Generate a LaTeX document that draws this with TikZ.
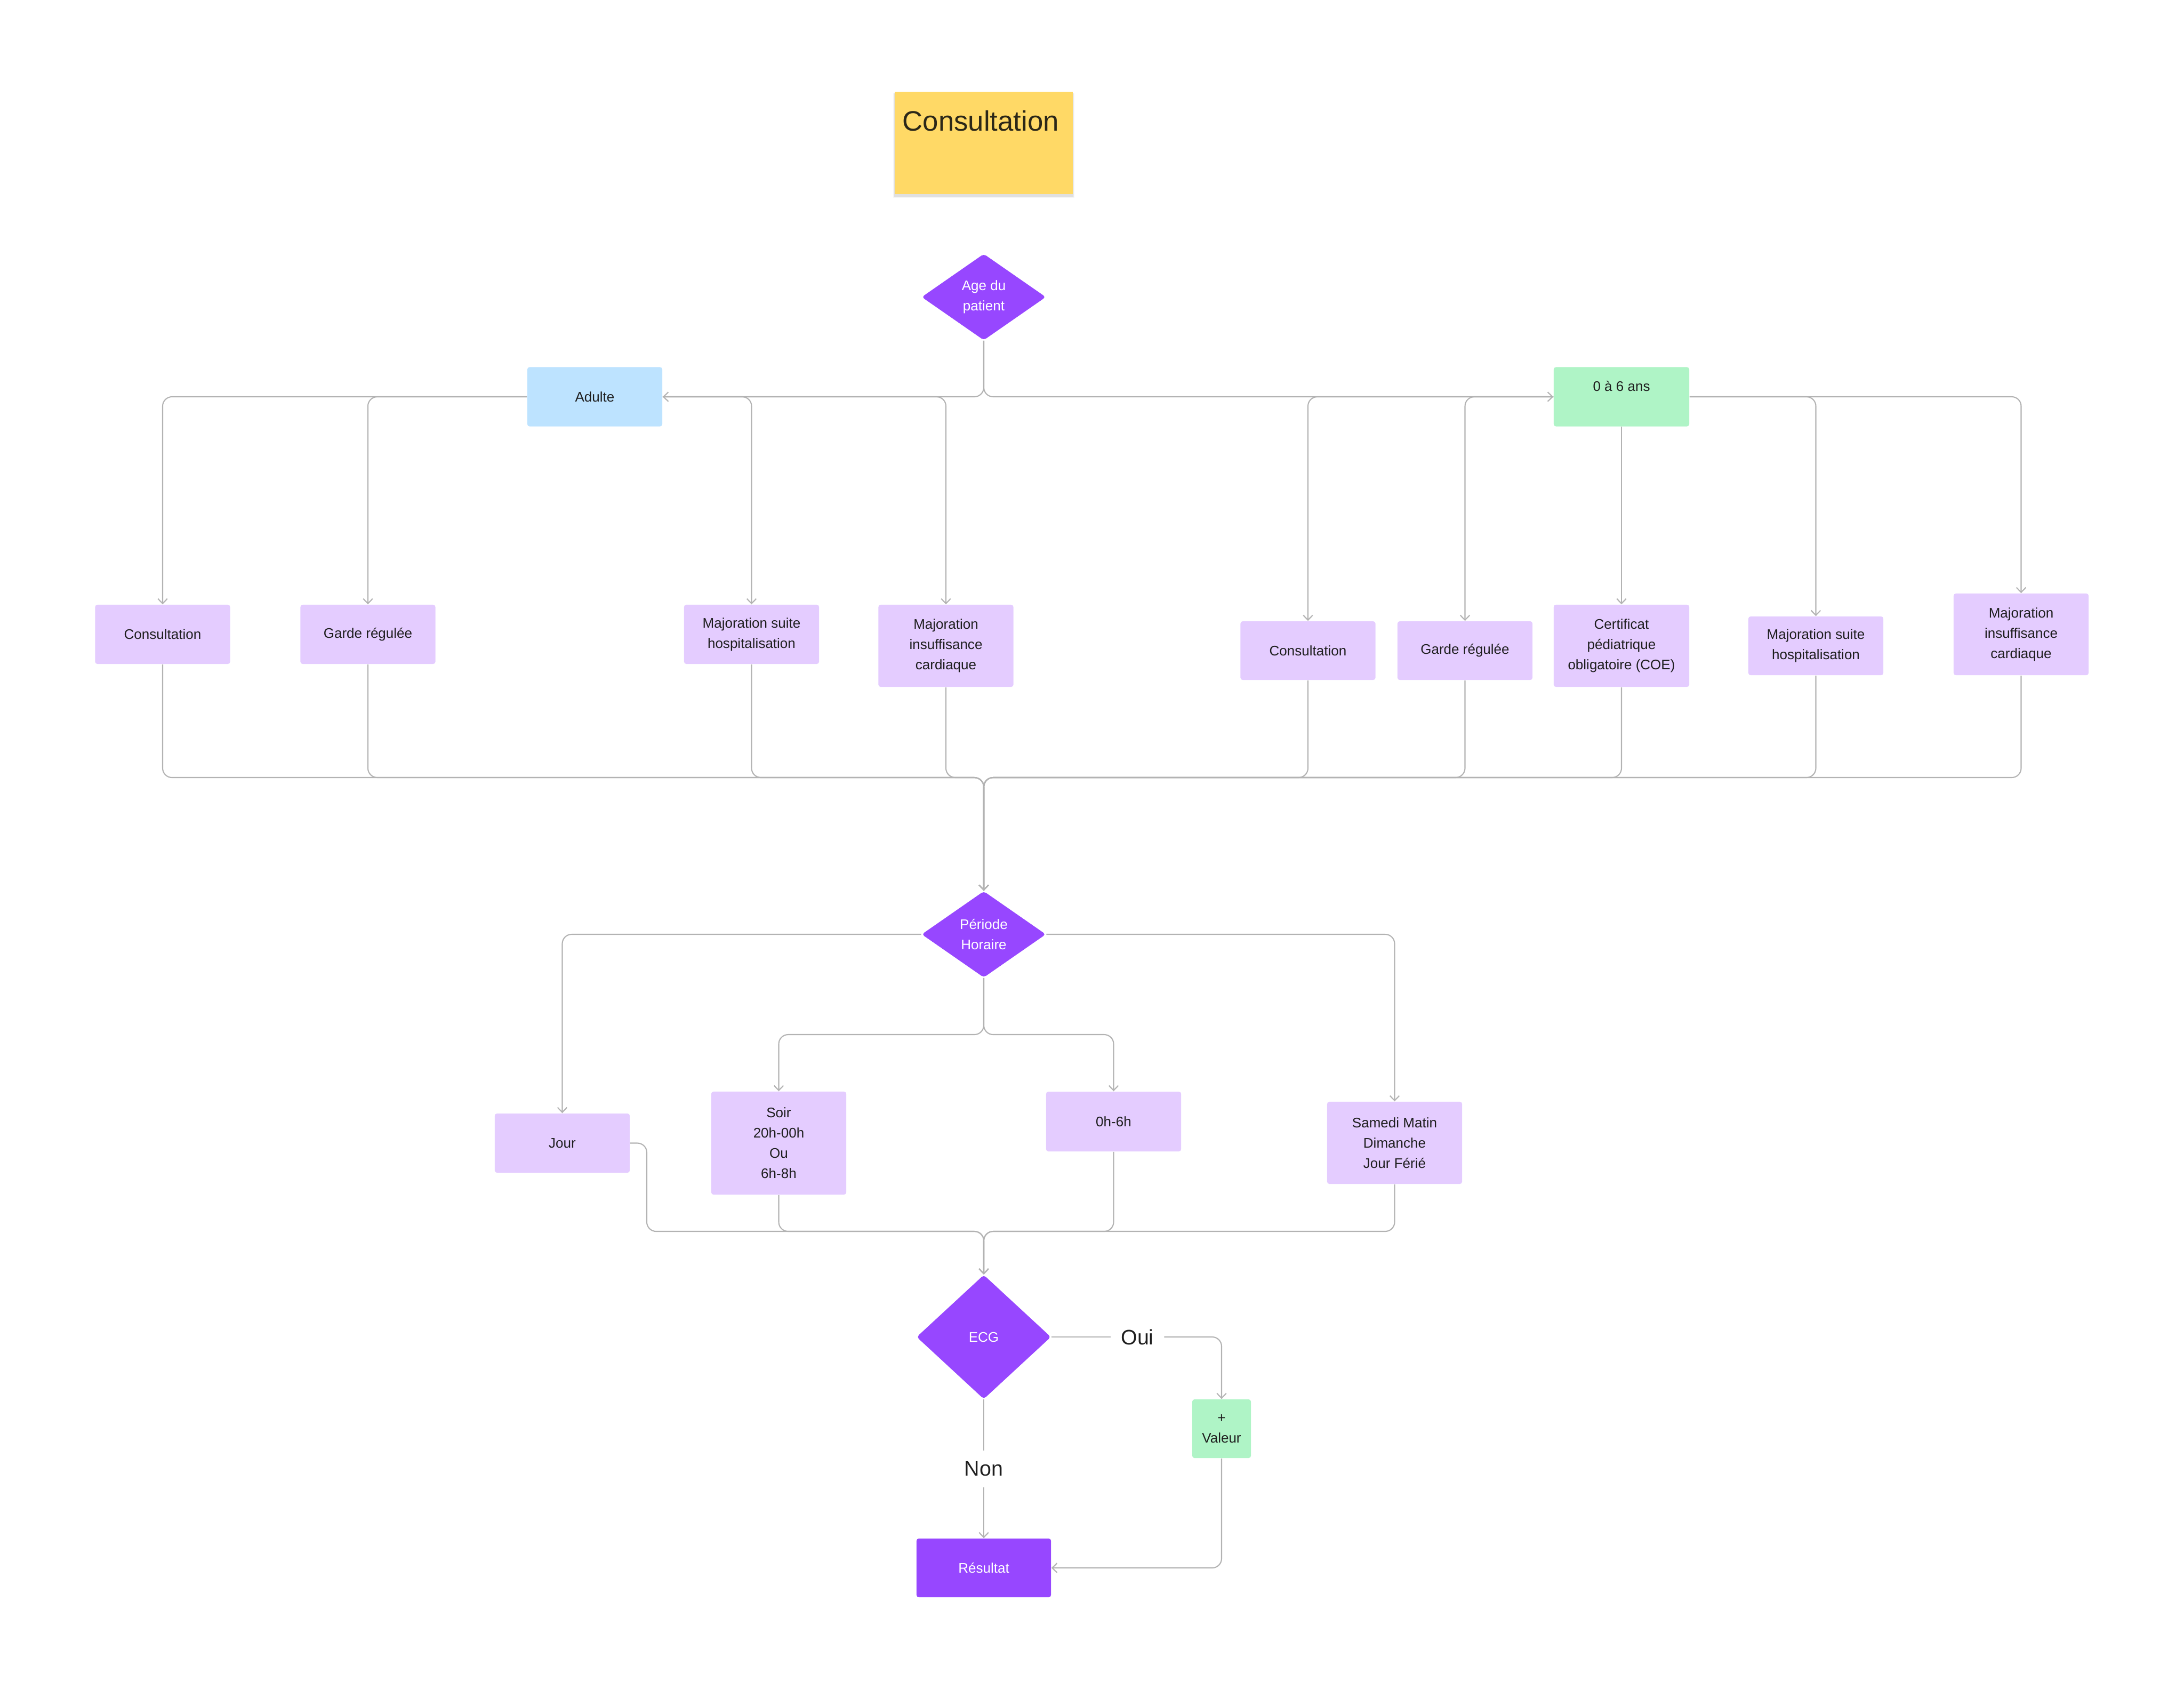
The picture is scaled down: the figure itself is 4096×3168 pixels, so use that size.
\documentclass[tikz,border=0pt]{standalone}
\usepackage{fontspec}
\setmainfont{Liberation Sans}
\usetikzlibrary{shapes.geometric,arrows.meta,shadows,calc}
\definecolor{stickyY}{HTML}{FFD966}
\definecolor{purp}{HTML}{9747FF}
\definecolor{lpurp}{HTML}{E4CCFF}
\definecolor{lblue}{HTML}{BDE3FF}
\definecolor{lgreen}{HTML}{AFF4C6}
\definecolor{linec}{HTML}{B3B3B3}
\definecolor{txt}{HTML}{1E1E1E}
\definecolor{titc}{HTML}{2B2718}
\newcommand{\boxfont}{\fontsize{7.4}{10.8}\selectfont}
\newcommand{\labfont}{\fontsize{11.2}{13}\selectfont}
\newcommand{\titfont}{\fontsize{15}{18}\selectfont}
\begin{document}
\begin{tikzpicture}[x=0.01cm,y=-0.01cm,
  conn/.style={draw=linec,line width=0.6pt,rounded corners=5pt},
  arr/.style={conn,-{Straight Barb[length=2.6pt,width=5pt]}},
  box/.style={rectangle,rounded corners=1.2pt,minimum width=2.53cm,minimum height=1.11cm,inner sep=0pt,align=center,text=txt,font=\boxfont},
  pbox/.style={box,fill=lpurp},
  dia/.style={diamond,fill=purp,minimum width=2.33cm,minimum height=1.62cm,inner sep=0pt,align=center,text=white,font=\boxfont,rounded corners=1.5pt},
  lab/.style={font=\labfont,text=txt,inner xsep=0.19cm,inner ysep=0.2cm}
]
\fill[white] (0,0) rectangle (4096,3168);
\useasboundingbox (0,0) rectangle (4096,3168);

% title sticky with soft shadow
\foreach \s/\o in {1.0/0.05,2.0/0.04,3.0/0.03}
  \fill[black,opacity=\o] ($(1678,175)+(-\s,0)$) rectangle ($(2012,368)+(\s,\s)$);
\node[fill=stickyY,minimum width=3.34cm,minimum height=1.92cm,inner sep=0pt] (sticky) at (1845,268) {};
\node[anchor=base west,inner sep=0pt,font=\titfont,text=titc] (title) at (1692,245) {Consultation};

% age decision
\node[dia] (age) at (1845,557) {Age du\\patient};
\node[box,fill=lblue] (adulte) at (1115.5,744) {Adulte};
\node[box,fill=lgreen,minimum width=2.54cm] (ans) at (3041,744) {\raisebox{0.4cm}{0 à 6 ans}};

% adult boxes
\node[pbox] (cA) at (305,1189.5) {Consultation};
\node[pbox] (gA) at (690,1189.5) {Garde régulée};
\node[pbox] (msA) at (1409.5,1189.5) {Majoration suite\\hospitalisation};
\node[pbox,minimum height=1.54cm] (miA) at (1774,1211) {Majoration\\insuffisance\\cardiaque};
% child boxes
\node[pbox,minimum height=1.10cm] (cB) at (2453,1220) {Consultation};
\node[pbox,minimum height=1.10cm] (gB) at (2747.5,1220) {Garde régulée};
\node[pbox,minimum height=1.54cm,minimum width=2.54cm] (cert) at (3041,1211) {Certificat\\pédiatrique\\obligatoire (COE)};
\node[pbox,minimum height=1.10cm] (msB) at (3405.5,1211) {Majoration suite\\hospitalisation};
\node[pbox,minimum height=1.53cm] (miB) at (3790.5,1189.5) {Majoration\\insuffisance\\cardiaque};

% period decision
\node[dia] (periode) at (1845,1752) {Période\\Horaire};
\node[pbox] (jour) at (1054.5,2143.5) {Jour};
\node[pbox,minimum height=1.93cm] (soir) at (1460.5,2143.5) {Soir\\20h-00h\\Ou\\6h-8h};
\node[pbox,minimum height=1.12cm] (h06) at (2088.5,2103) {0h-6h};
\node[pbox,minimum height=1.54cm] (sam) at (2615.5,2143) {Samedi Matin\\Dimanche\\Jour Férié};

% ECG
\node[dia,minimum width=2.52cm,minimum height=2.33cm] (ecg) at (1845,2507) {ECG};
\node[lab] (oui) at (2133,2507) {Oui};
\node[lab] (non) at (1845,2754) {Non};
\node[box,fill=lgreen,minimum width=1.10cm,minimum height=1.10cm] (val) at (2291,2679) {+\\Valeur};
\node[box,fill=purp,text=white,minimum width=2.52cm,minimum height=1.10cm] (res) at (1845,2940) {Résultat};

% connectors: age
\draw[arr] (age.south) |- (adulte.east);
\draw[arr] (age.south) |- (ans.west);
\draw[arr] (adulte.west) -| (cA.north);
\draw[arr] (adulte.west) -| (gA.north);
\draw[arr] (adulte.east) -| (msA.north);
\draw[arr] (adulte.east) -| (miA.north);
\draw[arr] (ans.west) -| (cB.north);
\draw[arr] (ans.west) -| (gB.north);
\draw[arr] (ans.south) -- (cert.north);
\draw[arr] (ans.east) -| (msB.north);
\draw[arr] (ans.east) -| (miB.north);

% collector 1
\coordinate (m1) at (1845,1458);
\foreach \n in {cA,gA,msA,miA,cB,gB,cert,msB,miB}
  \draw[arr] (\n.south) |- (m1) -- (periode.north);

% period branches
\draw[arr] (periode.west) -| (jour.north);
\draw[arr] (periode.east) -| (sam.north);
\coordinate (m2) at (1845,1940);
\draw[arr] (periode.south) -- (m2) -| (soir.north);
\draw[arr] (periode.south) -- (m2) -| (h06.north);

% collector 2
\coordinate (m3) at (1845,2309);
\coordinate (jx) at (1213,2309);
\draw[arr] (jour.east) -| (jx) -- (m3) -- (ecg.north);
\foreach \n in {soir,h06,sam}
  \draw[arr] (\n.south) |- (m3) -- (ecg.north);

% ECG branches
\draw[conn] (ecg.east) -- (oui.west);
\draw[arr] (oui.east) -| (val.north);
\draw[conn] (ecg.south) -- (non.north);
\draw[arr] (non.south) -- (res.north);
\draw[arr] (val.south) |- (res.east);
\end{tikzpicture}
\end{document}
